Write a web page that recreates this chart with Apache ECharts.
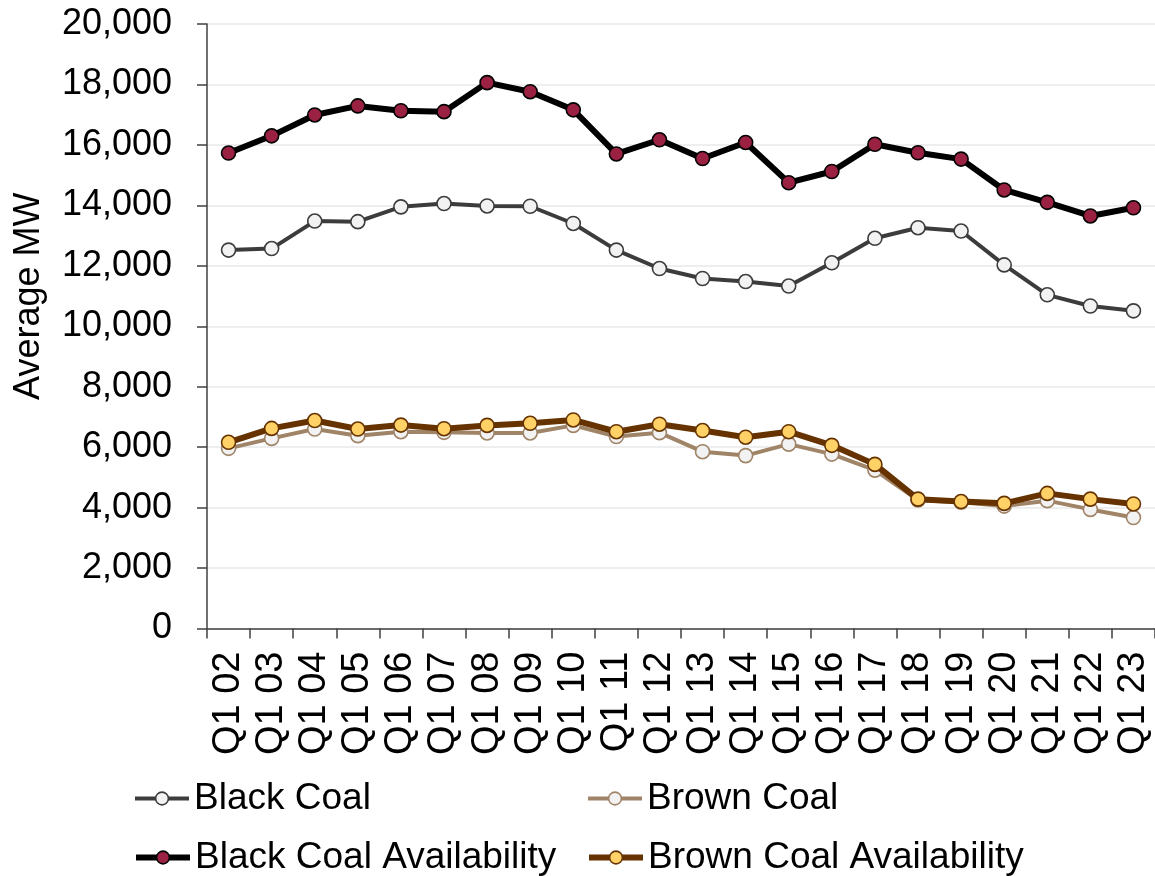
<!DOCTYPE html>
<html>
<head>
<meta charset="utf-8">
<script src="https://cdn.jsdelivr.net/npm/echarts@6/dist/echarts.min.js"></script>
<style>
html,body{margin:0;padding:0;background:#fff;}
#chart{width:1155px;height:876px;}
</style>
</head>
<body>
<div id="chart"></div>
<script>
const categories = ['Q1 02','Q1 03','Q1 04','Q1 05','Q1 06','Q1 07','Q1 08','Q1 09','Q1 10','Q1 11','Q1 12',
  'Q1 13','Q1 14','Q1 15','Q1 16','Q1 17','Q1 18','Q1 19','Q1 20','Q1 21','Q1 22','Q1 23'];
const blackCoal = [12520,12570,13480,13460,13950,14060,13980,13970,13400,12520,11910,
  11580,11480,11330,12100,12910,13260,13150,12030,11040,10670,10510];
const brownCoal = [5960,6290,6600,6380,6510,6490,6470,6470,6720,6350,6480,
  5850,5720,6100,5770,5240,4250,4180,4050,4230,3940,3670];
const blackCoalAvail = [15730,16300,16990,17290,17130,17100,18060,17760,17160,15700,16170,
  15550,16080,14750,15120,16020,15740,15530,14510,14100,13650,13920];
const brownCoalAvail = [6160,6620,6880,6600,6730,6610,6720,6790,6900,6510,6760,
  6550,6330,6510,6060,5430,4280,4200,4140,4470,4280,4120];
const yTicks = {min:0, max:20000, interval:2000};

const FONT = '"Liberation Sans", Arial, sans-serif';
const chart = echarts.init(document.getElementById('chart'), null, {renderer:'canvas'});

const styles = {
  'Black Coal': {line:'#3c3c3c', w:4, fill:'#f2f2f2'},
  'Brown Coal': {line:'#a08468', w:4, fill:'#f2f2f2'},
  'Black Coal Availability': {line:'#000000', w:6, fill:'#9b2143'},
  'Brown Coal Availability': {line:'#663300', w:6, fill:'#ffd166'}
};

function mk(name, data, z) {
  const s = styles[name];
  return {
    name: name, type: 'line', data: data, z: z,
    symbol: 'circle', symbolSize: 14,
    lineStyle: {color: s.line, width: s.w},
    itemStyle: {color: s.fill, borderColor: s.line, borderWidth: 1.6},
    emphasis: {disabled: true},
    animation: false
  };
}

function lg(name, left, top) {
  const s = styles[name];
  return {
    left: left, top: top, padding: 0,
    itemWidth: 54, itemHeight: 16,
    textStyle: {fontSize: 37, color: '#000', fontFamily: FONT},
    lineStyle: {width: s.w, color: s.line},
    itemStyle: {color: s.fill, borderColor: s.line, borderWidth: 1.6},
    selectedMode: false,
    data: [name]
  };
}

chart.setOption({
  animation: false,
  backgroundColor: '#ffffff',
  textStyle: {fontFamily: FONT},
  grid: {left: 207, top: 24, width: 950, height: 604.5, containLabel: false},
  legend: [
    lg('Black Coal', 133, 780),
    lg('Black Coal Availability', 133, 839),
    lg('Brown Coal', 586, 780),
    lg('Brown Coal Availability', 586, 839)
  ],
  xAxis: {
    type: 'category', data: categories, boundaryGap: true,
    axisLine: {lineStyle: {color: '#404040', width: 1.5}},
    axisTick: {show: true, interval: 0, length: 10, lineStyle: {color: '#404040', width: 1.5}},
    axisLabel: {interval: 0, rotate: 90, margin: 23, fontSize: 38, color: '#000', fontFamily: FONT},
    splitLine: {show: false}
  },
  yAxis: {
    type: 'value', min: yTicks.min, max: yTicks.max, interval: yTicks.interval,
    name: 'Average MW', nameLocation: 'middle', nameRotate: 90, nameGap: 160,
    nameTextStyle: {fontSize: 36, color: '#000', fontFamily: FONT, padding: [0, 0, 0, 60]},
    axisLine: {show: true, lineStyle: {color: '#404040', width: 1.5}},
    axisTick: {show: true, length: 10, lineStyle: {color: '#404040', width: 1.5}},
    axisLabel: {margin: 35, fontSize: 36, color: '#000', fontFamily: FONT,
      formatter: v => v.toLocaleString('en-US')},
    splitLine: {show: true, lineStyle: {color: '#eeeeee', width: 2}}
  },
  series: [
    mk('Black Coal', blackCoal, 2),
    mk('Brown Coal', brownCoal, 2),
    mk('Black Coal Availability', blackCoalAvail, 3),
    mk('Brown Coal Availability', brownCoalAvail, 3)
  ]
});
</script>
</body>
</html>
